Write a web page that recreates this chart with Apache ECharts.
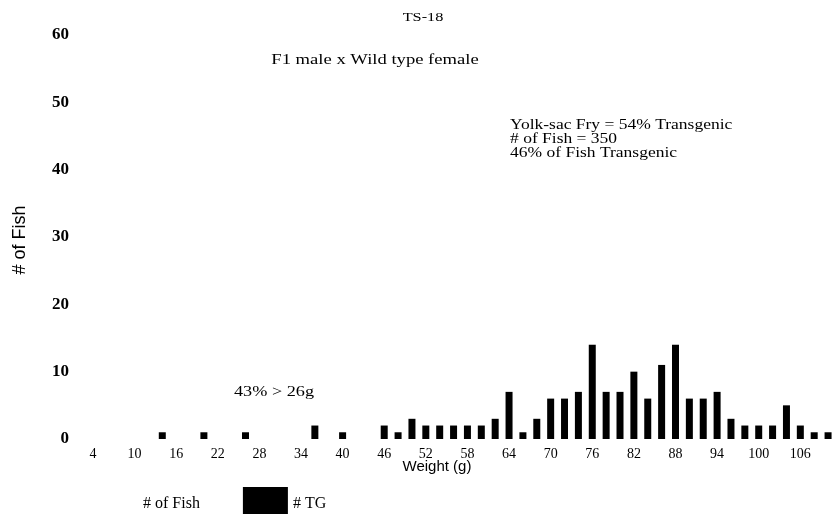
<!DOCTYPE html>
<html>
<head>
<meta charset="utf-8">
<script src="https://cdn.jsdelivr.net/npm/echarts@6/dist/echarts.min.js"></script>
<style>
  html, body { margin: 0; padding: 0; background: #fff; }
  #chart { width: 835px; height: 514px; }
</style>
</head>
<body>
<div id="chart"></div>
<script>
// Weight bins (g), 2 g wide
var weights = [4, 6, 8, 10, 12, 14, 16, 18, 20, 22, 24, 26, 28, 30, 32, 34, 36, 38, 40, 42,
               44, 46, 48, 50, 52, 54, 56, 58, 60, 62, 64, 66, 68, 70, 72, 74, 76, 78, 80, 82,
               84, 86, 88, 90, 92, 94, 96, 98, 100, 102, 104, 106, 108, 110];
// Transgenic fish per bin
var tgCounts = [0, 0, 0, 0, 0, 1, 0, 0, 1, 0, 0, 1, 0, 0, 0, 0, 2, 0, 1, 0,
                0, 2, 1, 3, 2, 2, 2, 2, 2, 3, 7, 1, 3, 6, 6, 7, 14, 7, 7, 10,
                6, 11, 14, 6, 6, 7, 3, 2, 2, 2, 5, 2, 1, 1];
// All fish per bin: drawn in white, only its legend entry shows
var fishCounts = [];
var yTicks = { min: 0, max: 60, interval: 10 };

var title = 'TS-18';
var subtitle = 'F1 male x Wild type female';
var notes = ['Yolk-sac Fry = 54% Transgenic', '# of Fish = 350', '46% of Fish Transgenic'];
var sizeNote = '43% > 26g';

var serif = '"Liberation Serif", "DejaVu Serif", serif';
var sans = '"Liberation Sans", Arial, sans-serif';

// Wide serif text: stretched horizontally around its anchor
function wideText(x, y, text, size, align, stretch, extra) {
  var style = { text: text, font: size + 'px ' + serif, fill: '#000', align: align, verticalAlign: 'middle' };
  if (extra) { for (var k in extra) style[k] = extra[k]; }
  return { type: 'text', x: x, y: y, scaleX: stretch, scaleY: 1, style: style };
}

var chart = echarts.init(document.getElementById('chart'));
chart.setOption({
  animation: false,
  backgroundColor: '#fff',
  grid: { left: 86, top: 35, width: 757, height: 404, containLabel: false },
  legend: {
    left: 88, top: 482,
    itemWidth: 45, itemHeight: 34, itemGap: 43,
    icon: 'rect',
    textStyle: { fontFamily: serif, fontSize: 16, color: '#000' },
    data: ['# of Fish', '# TG']
  },
  xAxis: {
    type: 'category',
    data: weights,
    axisLine: { show: false },
    axisTick: { show: false },
    axisLabel: { interval: 2, margin: 8, fontFamily: serif, fontSize: 14, color: '#000' }
  },
  yAxis: {
    type: 'value',
    min: yTicks.min, max: yTicks.max, interval: yTicks.interval,
    axisLine: { show: false },
    axisTick: { show: false },
    splitLine: { show: false },
    axisLabel: { margin: 17, fontFamily: serif, fontSize: 17, fontWeight: 'bold', color: '#000' }
  },
  series: [
    {
      name: '# of Fish', type: 'bar', data: fishCounts,
      barWidth: 7, barGap: '-100%',
      itemStyle: { color: '#fff' }
    },
    {
      name: '# TG', type: 'bar', data: tgCounts,
      barWidth: 7, barGap: '-100%',
      itemStyle: { color: '#000' }
    }
  ],
  graphic: [
    wideText(423, 18, title, 13, 'center', 1.25),
    wideText(375, 60, subtitle, 15, 'center', 1.24),
    {
      type: 'text', x: 510, y: 118, scaleX: 1.25, scaleY: 1,
      style: { text: notes.join('\n'), font: '14px ' + serif, lineHeight: 14, fill: '#000', align: 'left', verticalAlign: 'top' }
    },
    wideText(274, 392, sizeNote, 14, 'center', 1.3),
    { type: 'text', x: 437, y: 467, style: { text: 'Weight (g)', font: '15px ' + sans, fill: '#000', align: 'center', verticalAlign: 'middle' } },
    { type: 'text', x: 20, y: 240, rotation: Math.PI / 2, style: { text: '# of Fish', font: '18px ' + sans, fill: '#000', align: 'center', verticalAlign: 'middle' } }
  ]
});
</script>
</body>
</html>
